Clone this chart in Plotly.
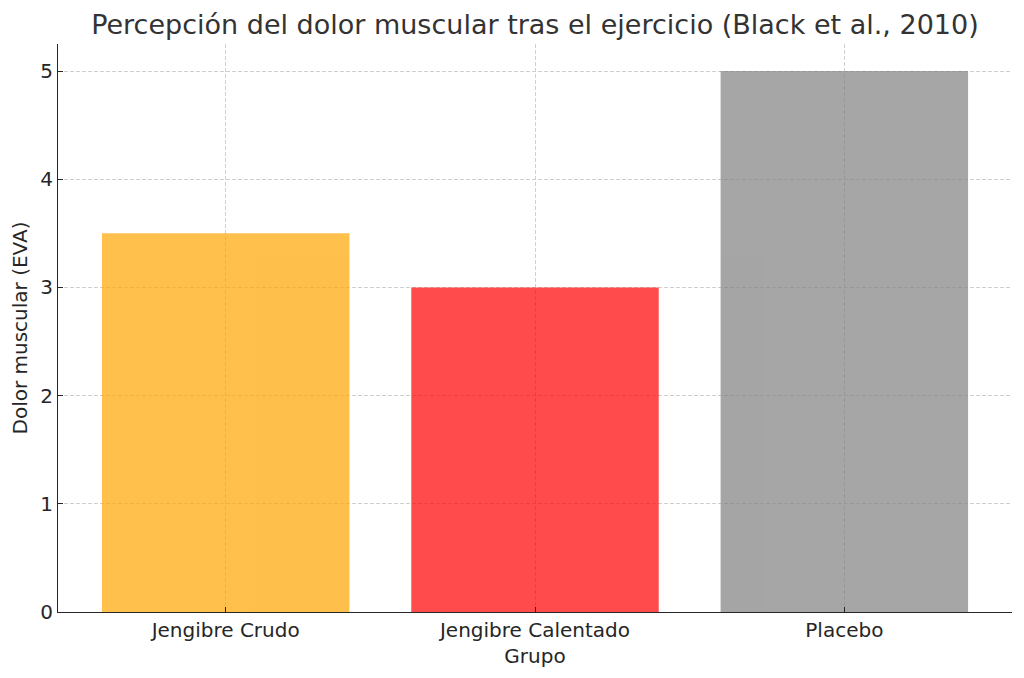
import plotly.graph_objects as go

# datos del estudio (Black et al., 2010)
grupos = ["Jengibre Crudo", "Jengibre Calentado", "Placebo"]
dolor_eva = [3.5, 3.0, 5.0]
colores = ["orange", "red", "gray"]

fig = go.Figure()
fig.add_trace(go.Bar(
    x=grupos,
    y=dolor_eva,
    marker_color=colores,
    marker_line_width=0,
    opacity=0.7,
    width=0.8,
))

axis_font = dict(family="DejaVu Sans", size=20, color="#262626")
grid = dict(showgrid=True, gridcolor="#cfcfcf", griddash="4px,2px", gridwidth=0.8)

fig.update_layout(
    width=1024,
    height=678,
    paper_bgcolor="white",
    plot_bgcolor="white",
    # the page body adds 8px around the figure
    margin=dict(l=50, r=20, t=36, b=74),
    showlegend=False,
    title=dict(
        text="Percepción del dolor muscular tras el ejercicio (Black et al., 2010)",
        x=0.5146, xanchor="center", y=0.975, yanchor="middle",
        font=dict(family="DejaVu Sans", size=27, color="#333333"),
    ),
    xaxis=dict(
        title=dict(text="Grupo", font=axis_font, standoff=7),
        tickfont=axis_font,
        range=[-0.542, 2.542],
        showline=True, linecolor="#262626", linewidth=1.2,
        ticks="inside", ticklen=5, tickcolor="#262626",
        zeroline=False, automargin=False,
        **grid,
    ),
    yaxis=dict(
        title=dict(text="Dolor muscular (EVA)", font=axis_font, standoff=8),
        tickfont=axis_font,
        range=[0, 5.25],
        dtick=1,
        showline=True, linecolor="#262626", linewidth=1.2,
        ticks="inside", ticklen=5, tickcolor="#262626",
        zeroline=False, automargin=False,
        **grid,
    ),
)

fig.write_html("out.html")
